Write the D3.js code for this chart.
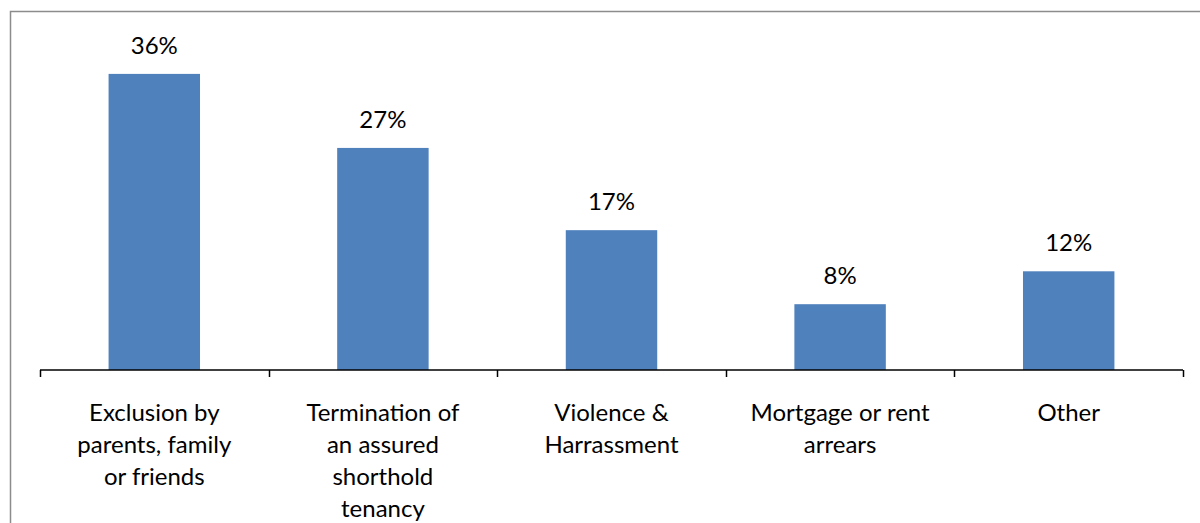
<!DOCTYPE html>
<html>
<head>
<meta charset="utf-8">
<script src="https://cdn.jsdelivr.net/npm/d3@7"></script>
<style>
  body { margin: 0; background: #fff; }
  svg { display: block; }
  text { font-family: Lato, "Open Sans", sans-serif; fill: #000; }
</style>
</head>
<body>
<svg id="chart"></svg>
<script>
// chart data
const categories = ["Exclusion", "Termination", "Violence", "Mortgage", "Other"];
const tickLabels = [
    ["Exclusion by", "parents, family", "or friends"],
    ["Termination of", "an assured", "shorthold", "tenancy"],
    ["Violence &", "Harrassment"],
    ["Mortgage or rent", "arrears"],
    ["Other"]
];
const values = [36, 27, 17, 8, 12];

const config = {
    width: 1200,
    height: 523,
    margin: { top: 41, left: 40, right: 17, bottom: 153 }
};

let innerW = config.width - config.margin.left - config.margin.right;
let innerH = config.height - config.margin.top - config.margin.bottom;

const svg = d3.select('#chart')
    .attr('width', config.width)
    .attr('height', config.height);

// outer frame (runs past the right and bottom edge)
svg.append('rect')
    .attr('x', 10.5)
    .attr('y', 11.5)
    .attr('width', 1250)
    .attr('height', 600)
    .attr('fill', 'none')
    .attr('stroke', '#8c8c8c')
    .attr('stroke-width', 1.5);

const chart = svg.append('g')
    .attr('transform', `translate(${config.margin.left}, ${config.margin.top})`);

const xScale = d3.scaleBand()
    .domain(categories)
    .range([0, innerW])
    .paddingInner(0.6)
    .paddingOuter(0.3);

const yScale = d3.scaleLinear()
    .domain([0, 40])
    .range([innerH, 0]);

// bars
chart.selectAll('rect.bar')
    .data(values)
    .enter()
    .append('rect')
    .attr('class', 'bar')
    .attr('x', (d, i) => xScale(categories[i]))
    .attr('y', d => yScale(d))
    .attr('width', xScale.bandwidth())
    .attr('height', d => innerH - yScale(d))
    .attr('fill', '#4f81bd');

// value labels
chart.selectAll('text.val')
    .data(values)
    .enter()
    .append('text')
    .attr('class', 'val')
    .attr('x', (d, i) => xScale(categories[i]) + xScale.bandwidth() / 2)
    .attr('y', d => yScale(d) - 20)
    .attr('text-anchor', 'middle')
    .style('font-size', '24px')
    .text(d => d + '%');

// x axis: line with ticks at category boundaries
let step = innerW / categories.length;
const axis = chart.append('g')
    .attr('transform', `translate(0, ${innerH})`);

axis.append('line')
    .attr('x1', 0).attr('x2', innerW)
    .attr('y1', 0).attr('y2', 0)
    .attr('stroke', '#000')
    .attr('stroke-width', 1.5);

axis.selectAll('line.tick')
    .data(d3.range(categories.length + 1))
    .enter()
    .append('line')
    .attr('class', 'tick')
    .attr('x1', i => Math.round(i * step) + 0.5)
    .attr('x2', i => Math.round(i * step) + 0.5)
    .attr('y1', 0)
    .attr('y2', 7)
    .attr('stroke', '#000')
    .attr('stroke-width', 1.5);

// category labels, one tspan per line
const labels = axis.selectAll('text.cat')
    .data(tickLabels)
    .enter()
    .append('text')
    .attr('class', 'cat')
    .attr('text-anchor', 'middle')
    .style('font-size', '24px')
    .attr('transform', (d, i) => `translate(${xScale(categories[i]) + xScale.bandwidth() / 2}, 51)`);

labels.selectAll('tspan')
    .data(d => d)
    .enter()
    .append('tspan')
    .attr('x', 0)
    .attr('y', (d, i) => i * 32)
    .text(d => d);
</script>
</body>
</html>
